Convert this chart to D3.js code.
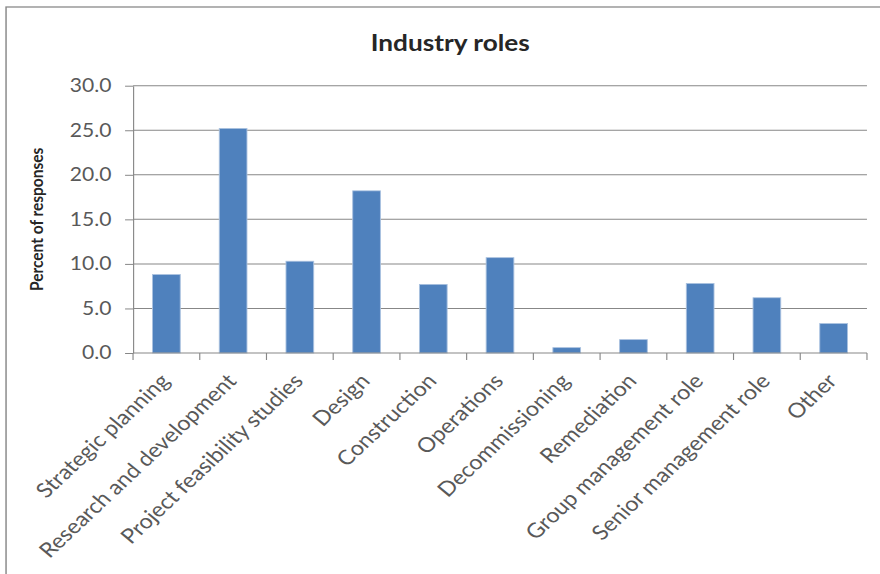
<!DOCTYPE html>
<html>
<head>
<meta charset="utf-8">
<script src="https://cdn.jsdelivr.net/npm/d3@7"></script>
<style>
  html, body { margin: 0; padding: 0; background: #ffffff; }
  svg { display: block; }
</style>
</head>
<body>
<div id="chart"></div>
<script>
// ---- data ----
const categories = [
  "Strategic planning", "Research and development", "Project feasibility studies",
  "Design", "Construction", "Operations", "Decommissioning", "Remediation",
  "Group management role", "Senior management role", "Other"
];
const values = [8.8, 25.2, 10.3, 18.2, 7.7, 10.7, 0.6, 1.5, 7.8, 6.2, 3.3];
const yTicks = [0, 5, 10, 15, 20, 25, 30];
const chartTitle = "Industry roles";
const yAxisTitle = "Percent of responses";

// ---- layout (inner coordinate system, stretched horizontally to 880px) ----
const W = 880, H = 574, stretch = 1.14;
const IW = W / stretch;
const margin = { left: 116.7, right: IW - 760.5, top: 85.7, bottom: H - 353 };

const svg = d3.select("#chart").append("svg")
  .attr("width", W).attr("height", H)
  .attr("viewBox", `0 0 ${IW} ${H}`)
  .attr("preserveAspectRatio", "none");

// outer chart border
svg.append("rect")
  .attr("x", 5.3).attr("y", 7).attr("width", IW + 20).attr("height", H + 20)
  .attr("fill", "#fff").attr("stroke", "#8a8a8a").attr("stroke-width", 1.3);

const x = d3.scaleBand().domain(categories)
  .range([margin.left, IW - margin.right]).paddingInner(0.585).paddingOuter(0.2925);
const y = d3.scaleLinear().domain([0, 30]).range([H - margin.bottom, margin.top]);

const gridColor = "#878787";
const font = "Lato, 'Open Sans', sans-serif";

// gridlines
svg.append("g").selectAll("line").data(yTicks.filter(d => d > 0)).join("line")
  .attr("x1", margin.left).attr("x2", IW - margin.right)
  .attr("y1", d => y(d)).attr("y2", d => y(d))
  .attr("stroke", gridColor).attr("stroke-width", 1);

// bars
svg.append("g").selectAll("rect").data(values).join("rect")
  .attr("x", (d, i) => x(categories[i]))
  .attr("width", x.bandwidth())
  .attr("y", d => y(d))
  .attr("height", d => y(0) - y(d))
  .attr("fill", "#4F81BD")
  .attr("stroke", "#a9c1df").attr("stroke-width", 0.8);

// y axis
const yAxis = d3.axisLeft(y).tickValues(yTicks).tickSize(7).tickSizeOuter(0)
  .tickPadding(12).tickFormat(d3.format(".1f"));
const gy = svg.append("g").attr("transform", `translate(${margin.left},0)`).call(yAxis);
gy.select(".domain").attr("stroke", gridColor);
gy.selectAll(".tick line").attr("stroke", gridColor);
gy.selectAll(".tick text").attr("font-family", font).attr("font-size", 18.5)
  .attr("fill", "#595959");

// x axis baseline + tick marks at band boundaries
const step = x.step();
const boundaries = d3.range(categories.length + 1).map(i => margin.left + i * step);
svg.append("line")
  .attr("x1", margin.left).attr("x2", IW - margin.right)
  .attr("y1", y(0)).attr("y2", y(0)).attr("stroke", gridColor);
svg.append("g").selectAll("line").data(boundaries).join("line")
  .attr("x1", d => d).attr("x2", d => d)
  .attr("y1", y(0)).attr("y2", y(0) + 7).attr("stroke", gridColor);

// x labels rotated
svg.append("g").selectAll("text").data(categories).join("text")
  .attr("transform", d => `translate(${x(d) + x.bandwidth() / 2 + 4},${y(0) + 29}) rotate(-47)`)
  .attr("text-anchor", "end")
  .attr("font-family", font).attr("font-size", 20.5).attr("fill", "#595959")
  .text(d => d);

// title
svg.append("text")
  .attr("x", 395).attr("y", 51).attr("text-anchor", "middle")
  .attr("font-family", font).attr("font-size", 23).attr("font-weight", "bold")
  .attr("fill", "#262626").text(chartTitle);

// y axis title
svg.append("text")
  .attr("transform", `translate(37.5,${(y(0) + y(30)) / 2}) rotate(-90)`)
  .attr("text-anchor", "middle")
  .attr("font-family", font).attr("font-size", 15.5).attr("font-weight", "bold")
  .attr("fill", "#262626").text(yAxisTitle);
</script>
</body>
</html>
